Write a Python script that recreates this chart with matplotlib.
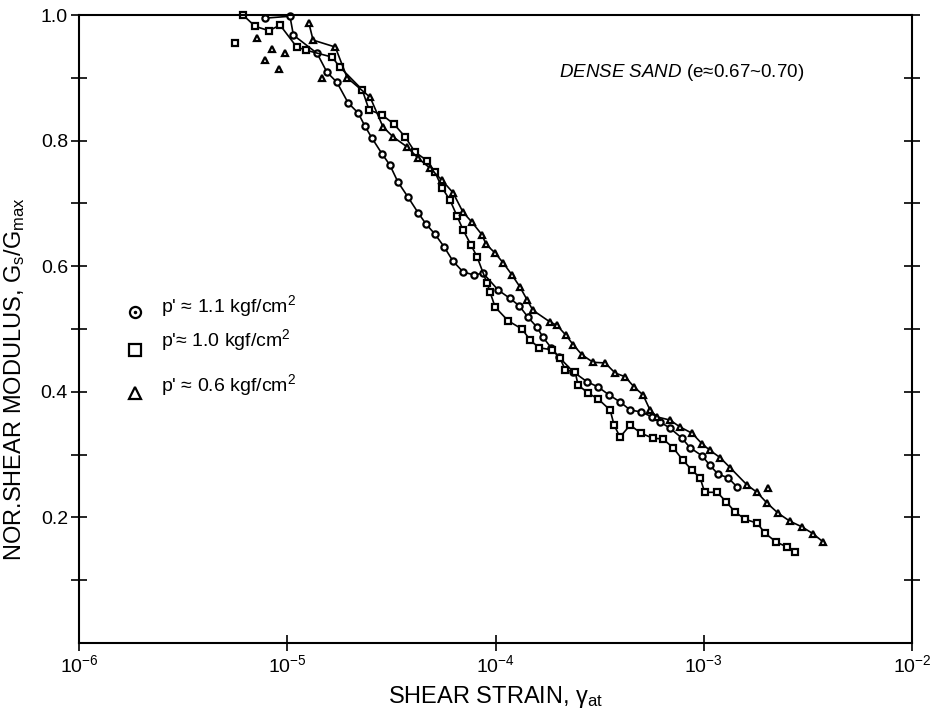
import numpy as np
import matplotlib
matplotlib.use("Agg")
import matplotlib.pyplot as plt
from matplotlib.ticker import FixedLocator, NullFormatter, FixedFormatter

plt.rcParams['font.family'] = ['Liberation Sans', 'DejaVu Sans']
plt.rcParams['mathtext.fontset'] = 'custom'
plt.rcParams['mathtext.rm'] = 'Liberation Sans'
plt.rcParams['mathtext.it'] = 'Liberation Sans:italic'
plt.rcParams['mathtext.bf'] = 'Liberation Sans:bold'

# p' ~ 1.1 kgf/cm2 (circles)
strain_11 = [7.82e-6, 1.03e-5, 1.07e-5, 1.39e-5, 1.55e-5, 1.73e-5, 1.96e-5, 2.19e-5,
             2.36e-5, 2.55e-5, 2.85e-5, 3.11e-5, 3.40e-5, 3.80e-5, 4.25e-5, 4.64e-5,
             5.12e-5, 5.66e-5, 6.25e-5, 6.98e-5, 7.88e-5, 8.71e-5, 1.03e-4, 1.17e-4,
             1.30e-4, 1.43e-4, 1.58e-4, 1.69e-4, 1.85e-4, 2.02e-4, 2.36e-4, 2.75e-4,
             3.10e-4, 3.51e-4, 3.96e-4, 4.43e-4, 5.00e-4, 5.65e-4, 6.17e-4, 6.89e-4,
             7.87e-4, 8.59e-4, 9.82e-4, 1.07e-3, 1.17e-3, 1.31e-3, 1.45e-3]
gratio_11 = [0.995, 0.998, 0.968, 0.939, 0.909, 0.893, 0.860, 0.844,
             0.823, 0.804, 0.779, 0.761, 0.734, 0.710, 0.685, 0.667,
             0.651, 0.631, 0.608, 0.591, 0.586, 0.589, 0.562, 0.549,
             0.537, 0.519, 0.503, 0.487, 0.470, 0.455, 0.432, 0.416,
             0.408, 0.395, 0.384, 0.371, 0.368, 0.360, 0.352, 0.342,
             0.326, 0.311, 0.298, 0.283, 0.269, 0.263, 0.248]

# p' ~ 1.0 kgf/cm2 (squares)
strain_10 = [6.13e-6, 7.00e-6, 8.17e-6, 9.23e-6, 1.11e-5, 1.23e-5, 1.64e-5, 1.79e-5,
             2.29e-5, 2.47e-5, 2.85e-5, 3.26e-5, 3.68e-5, 4.10e-5, 4.69e-5, 5.12e-5,
             5.53e-5, 6.05e-5, 6.53e-5, 6.98e-5, 7.62e-5, 8.15e-5, 9.10e-5, 9.41e-5,
             9.95e-5, 1.15e-4, 1.34e-4, 1.47e-4, 1.62e-4, 1.87e-4, 2.04e-4, 2.16e-4,
             2.41e-4, 2.49e-4, 2.78e-4, 3.10e-4, 3.55e-4, 3.71e-4, 3.96e-4, 4.43e-4,
             5.00e-4, 5.71e-4, 6.37e-4, 7.12e-4, 7.95e-4, 8.79e-4, 9.60e-4, 1.01e-3,
             1.16e-3, 1.28e-3, 1.41e-3, 1.58e-3, 1.80e-3, 1.97e-3, 2.22e-3, 2.51e-3,
             2.74e-3]
gratio_10 = [1.000, 0.982, 0.975, 0.984, 0.949, 0.944, 0.933, 0.917,
             0.881, 0.849, 0.841, 0.826, 0.806, 0.782, 0.768, 0.750,
             0.725, 0.705, 0.680, 0.658, 0.634, 0.615, 0.573, 0.559,
             0.535, 0.513, 0.500, 0.482, 0.470, 0.467, 0.454, 0.435,
             0.432, 0.411, 0.398, 0.389, 0.371, 0.347, 0.328, 0.347,
             0.334, 0.326, 0.325, 0.311, 0.291, 0.275, 0.263, 0.240,
             0.240, 0.225, 0.209, 0.197, 0.191, 0.175, 0.161, 0.153,
             0.145]
strain_10_pts = [5.61e-6]
gratio_10_pts = [0.955]

# p' ~ 0.6 kgf/cm2 (triangles)
strain_06 = [1.27e-5, 1.33e-5, 1.70e-5, 1.94e-5, 2.50e-5, 2.88e-5, 3.22e-5, 3.76e-5,
             4.25e-5, 4.85e-5, 5.53e-5, 6.25e-5, 6.98e-5, 7.71e-5, 8.61e-5, 9.00e-5,
             9.95e-5, 1.09e-4, 1.20e-4, 1.31e-4, 1.42e-4, 1.51e-4, 1.83e-4, 1.97e-4,
             2.18e-4, 2.36e-4, 2.60e-4, 2.94e-4, 3.36e-4, 3.75e-4, 4.19e-4, 4.62e-4,
             5.11e-4, 5.52e-4, 5.97e-4, 6.89e-4, 7.69e-4, 8.79e-4, 9.82e-4, 1.07e-3,
             1.20e-3, 1.34e-3, 1.61e-3, 1.80e-3, 2.01e-3, 2.27e-3, 2.59e-3, 2.96e-3,
             3.35e-3, 3.74e-3]
gratio_06 = [0.987, 0.960, 0.949, 0.900, 0.869, 0.822, 0.806, 0.790,
             0.772, 0.756, 0.737, 0.717, 0.686, 0.670, 0.650, 0.635,
             0.621, 0.605, 0.586, 0.567, 0.546, 0.530, 0.511, 0.506,
             0.490, 0.475, 0.459, 0.447, 0.446, 0.430, 0.424, 0.408,
             0.395, 0.371, 0.360, 0.355, 0.344, 0.334, 0.317, 0.307,
             0.295, 0.279, 0.252, 0.240, 0.223, 0.207, 0.194, 0.185,
             0.174, 0.161]
strain_06_pts = [7.16e-6, 7.82e-6, 8.45e-6, 9.13e-6, 9.75e-6, 1.47e-5, 2.04e-3]
gratio_06_pts = [0.963, 0.928, 0.946, 0.914, 0.939, 0.900, 0.247]

legend_labels = ["p' \u2248 1.1 kgf/cm$^2$", "p'\u2248 1.0 kgf/cm$^2$", "p' \u2248 0.6 kgf/cm$^2$"]
xtick_vals = [1e-6, 1e-5, 1e-4, 1e-3, 1e-2]
xtick_labels = ['$10^{-6}$', '$10^{-5}$', '$10^{-4}$', '$10^{-3}$', '$10^{-2}$']
ytick_vals = [0.2, 0.4, 0.6, 0.8, 1.0]
ytick_labels = ['0.2', '0.4', '0.6', '0.8', '1.0']
ytick_minor = [0.1, 0.3, 0.5, 0.7, 0.9]

fig = plt.figure(figsize=(9.42, 7.11), dpi=100)
ax = fig.add_axes([0.0839, 0.0956, 0.8843, 0.8833])

mk = dict(color='black', lw=1.2, markerfacecolor='white', markeredgecolor='black',
          markeredgewidth=1.6, markersize=4.5)
ax.plot(strain_11, gratio_11, marker='o', clip_on=False, **mk)
ax.plot(strain_10, gratio_10, marker='s', clip_on=False, **mk)
ax.plot(strain_10_pts, gratio_10_pts, marker='s', ls='none', **mk)
ax.plot(strain_06, gratio_06, marker='^', clip_on=False, **mk)
ax.plot(strain_06_pts, gratio_06_pts, marker='^', ls='none', **mk)

ax.set_xscale('log')
ax.set_xlim(1e-6, 1e-2)
ax.set_ylim(0, 1.0)

ax.xaxis.set_major_locator(FixedLocator(xtick_vals))
ax.xaxis.set_major_formatter(FixedFormatter(xtick_labels))
ax.xaxis.set_minor_locator(FixedLocator([]))
ax.yaxis.set_major_locator(FixedLocator(ytick_vals))
ax.yaxis.set_major_formatter(FixedFormatter(ytick_labels))
ax.yaxis.set_minor_locator(FixedLocator(ytick_minor))
ax.yaxis.set_minor_formatter(NullFormatter())

ax.tick_params(axis='x', which='both', direction='inout', length=12, width=1.2,
               labelsize=14, pad=2, top=False)
ax.tick_params(axis='y', which='both', direction='inout', length=12, width=1.2,
               labelsize=14, pad=2, right=True)
for s in ax.spines.values():
    s.set_linewidth(1.5)

ax.set_xlabel("SHEAR STRAIN, \u03b3$_{\\rm at}$", fontsize=17, labelpad=6)
ax.set_ylabel("NOR.SHEAR MODULUS, G$_{\\rm s}$/G$_{\\rm max}$", fontsize=17)
ax.yaxis.set_label_coords(-0.062, 0.42)

# legend drawn by hand
leg_mk = ['o', 's', '^']
leg_y = [0.527, 0.467, 0.398]
leg_ty = [0.537, 0.482, 0.411]
for m, yy, ty, lab in zip(leg_mk, leg_y, leg_ty, legend_labels):
    ax.plot([0.067], [yy], marker=m, transform=ax.transAxes, markersize=8,
            markerfacecolor='white', markeredgecolor='black', markeredgewidth=1.6,
            clip_on=False)
    ax.text(0.098, ty, lab, transform=ax.transAxes, fontsize=14, va='center', ha='left')
ax.plot([0.067], [0.527], marker='.', transform=ax.transAxes, markersize=3, color='black')

ax.text(0.87, 0.909, "$\\it{DENSE\\ SAND}$ (e\u22480.67~0.70)", transform=ax.transAxes,
        fontsize=13.5, ha='right', va='center')

plt.savefig('out.png', dpi=100)
